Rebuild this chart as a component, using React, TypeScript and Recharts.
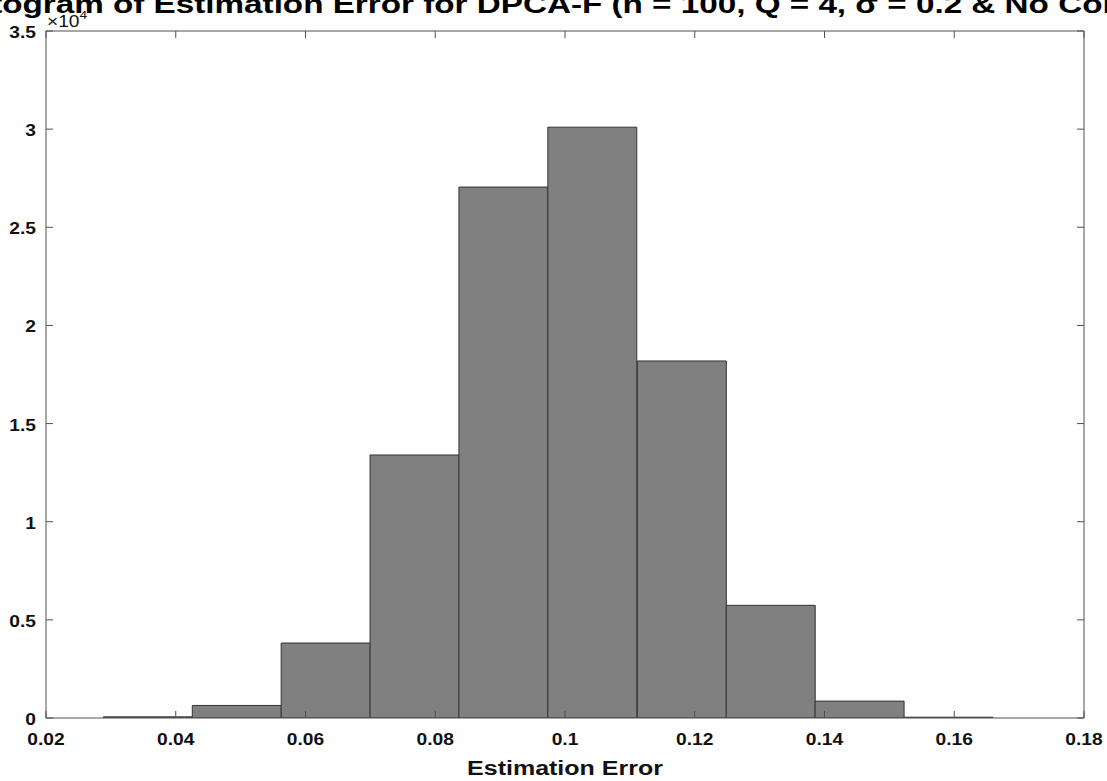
import React from "react";
import { BarChart, Bar, XAxis, YAxis } from "recharts";

// histogram bins (centres) and counts
const binCenters = [0.0357, 0.0494, 0.0631, 0.0768, 0.0905, 0.1042, 0.118, 0.1317, 0.1454, 0.1591];
const counts = [60, 640, 3820, 13400, 27050, 30100, 18190, 5740, 860, 40];

const xTicks = [0.02, 0.04, 0.06, 0.08, 0.1, 0.12, 0.14, 0.16, 0.18];
const yTicks = [0, 5000, 10000, 15000, 20000, 25000, 30000, 35000];

const TITLE = "Histogram of Estimation Error for DPCA-F (n = 100, Q = 4, \u03c3 = 0.2 & No Comm)";
const X_LABEL = "Estimation Error";

const data = binCenters.map((c, i) => ({ center: c, count: counts[i] }));

const W = 1107;
const H = 781;
const AXIS = "#505050";
const INK = "#111111";
const FONT = "'Liberation Sans', Arial, sans-serif";
const SX = 1.2; // the original figure is stretched sideways

const fmtX = (v: number) => String(Number(v.toFixed(2)));
const fmtY = (v: number) => String(v / 10000);

function BottomTick(props: any) {
  const { x, y, payload } = props;
  return (
    <g>
      <line x1={x} y1={y} x2={x} y2={y - 7} stroke={AXIS} strokeWidth={1} />
      <text transform={`translate(${x},${y + 26.5}) scale(${SX},1)`} textAnchor="middle"
        fontFamily={FONT} fontWeight="bold" fontSize={16} fill={INK}>{fmtX(payload.value)}</text>
    </g>
  );
}

function TopTick(props: any) {
  const { x, y } = props;
  return <line x1={x} y1={y} x2={x} y2={y + 7} stroke={AXIS} strokeWidth={1} />;
}

function LeftTick(props: any) {
  const { x, y, payload } = props;
  return (
    <g>
      <line x1={x} y1={y} x2={x + 7} y2={y} stroke={AXIS} strokeWidth={1} />
      <text transform={`translate(${x - 10},${y + 7}) scale(${SX},1)`} textAnchor="end"
        fontFamily={FONT} fontWeight="bold" fontSize={16} fill={INK}>{fmtY(payload.value)}</text>
    </g>
  );
}

function RightTick(props: any) {
  const { x, y } = props;
  return <line x1={x} y1={y} x2={x - 7} y2={y} stroke={AXIS} strokeWidth={1} />;
}

export default function App() {
  return (
    <div style={{ position: "absolute", left: 0, top: 0, width: W, height: H, overflow: "hidden", background: "#fff" }}>
      <BarChart width={W} height={H} data={data} barCategoryGap={0} barGap={0}
        margin={{ top: 30, right: 22, bottom: 62, left: 45 }}>
        <XAxis xAxisId="b" dataKey="center" type="number" domain={[0.02, 0.18]} ticks={xTicks}
          allowDataOverflow interval={0} height={1} tickSize={0} tickMargin={0}
          axisLine={{ stroke: AXIS }} tickLine={false} tick={<BottomTick />} />
        <XAxis xAxisId="t" orientation="top" dataKey="center" type="number" domain={[0.02, 0.18]} ticks={xTicks}
          allowDataOverflow interval={0} height={1} tickSize={0} tickMargin={0}
          axisLine={{ stroke: AXIS }} tickLine={false} tick={<TopTick />} />
        <YAxis yAxisId="l" type="number" domain={[0, 35000]} ticks={yTicks} allowDataOverflow interval={0}
          width={1} tickSize={0} tickMargin={0} axisLine={{ stroke: AXIS }} tickLine={false} tick={<LeftTick />} />
        <YAxis yAxisId="r" orientation="right" type="number" domain={[0, 35000]} ticks={yTicks} allowDataOverflow
          interval={0} width={1} tickSize={0} tickMargin={0} axisLine={{ stroke: AXIS }} tickLine={false}
          tick={<RightTick />} />
        <Bar xAxisId="b" yAxisId="l" dataKey="count" fill="#808080" stroke="#333333" strokeWidth={1}
          isAnimationActive={false} />
      </BarChart>
      <svg width={W} height={H} style={{ position: "absolute", left: 0, top: 0, pointerEvents: "none" }}>
        <text transform={`translate(556,13) scale(1.25,1)`} textAnchor="middle" fontFamily={FONT}
          fontWeight="bold" fontSize={26.6} fill="#000">{TITLE}</text>
        <text transform={`translate(565,775) scale(1.25,1)`} textAnchor="middle" fontFamily={FONT}
          fontWeight="bold" fontSize={20} fill={INK}>{X_LABEL}</text>
        <text transform={`translate(47,27) scale(1.2,1)`} fontFamily={FONT} fontSize={16} fill={INK}>
          {"\u00d710"}
          <tspan dy={-8} fontSize={11.5}>4</tspan>
        </text>
      </svg>
    </div>
  );
}
